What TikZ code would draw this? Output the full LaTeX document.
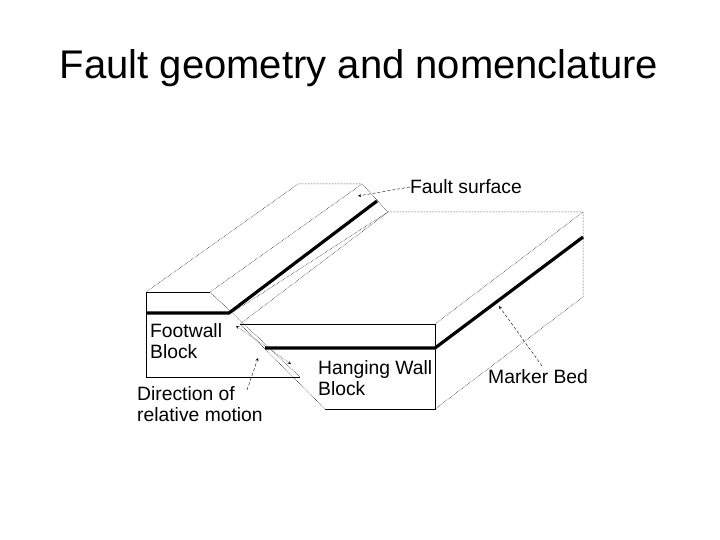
\documentclass[tikz,border=0pt]{standalone}
\usepackage{fontspec}
\setmainfont{Liberation Sans}
\begin{document}
\begin{tikzpicture}[x=1pt,y=-1pt,
  edge/.style={line width=0.5pt,densely dotted},
  solid edge/.style={line width=0.6pt},
  bed/.style={line width=3.2pt},
  lab/.style={anchor=west,font=\fontsize{19.3}{21}\selectfont,inner sep=0pt,align=left},
  arr/.style={->,>=stealth,line width=0.4pt,densely dashed}]
\useasboundingbox (0,0) rectangle (720,540);
\node (title) at (359,68) {\fontsize{40}{44}\selectfont Fault geometry and nomenclature};
% footwall
\draw[solid edge] (146,292) -- (210,292);
\draw[solid edge] (146,292) -- (146,377) -- (300,377);
\draw[edge] (146,292) -- (298,184) -- (362,184);
\draw[edge] (210,292) -- (362,184);
\draw[edge] (362,184) -- (388,212);
\draw[edge] (233,312) -- (388,212);
\draw[edge] (210,292) -- (300,377);
% hanging wall
\draw[solid edge] (240,324) -- (435,324) -- (435,409) -- (325,409);
\draw[edge] (240,324) -- (325,409);
\draw[edge] (240,324) -- (388,212) -- (583,212) -- (583,297) -- (435,409);
\draw[edge] (435,324) -- (583,212);
% marker beds
\draw[bed] (146,313) -- (229,313) -- (377,201);
\draw[bed] (265,348) -- (435,348) -- (583,237);
% labels
\node[lab] (fs) at (410,187) {Fault surface};
\draw[arr] (fs.west) -- (358,196);
\node[lab] (fw) at (150,341) {Footwall\\Block};
\node[lab] (hw) at (318,378) {Hanging Wall\\Block};
\node[lab] (mb) at (488,377) {Marker Bed};
\draw[arr] (542,366) -- (499,306);
\node[lab] (dr) at (137,404) {Direction of\\relative motion};
\draw[arr] (247,390) -- (258,358);
\coordinate (m1) at (236,326);
\coordinate (m2) at (291,364);
\draw[<->,>=stealth,line width=0.4pt,densely dotted] (m1) -- (m2);
\end{tikzpicture}
\end{document}
